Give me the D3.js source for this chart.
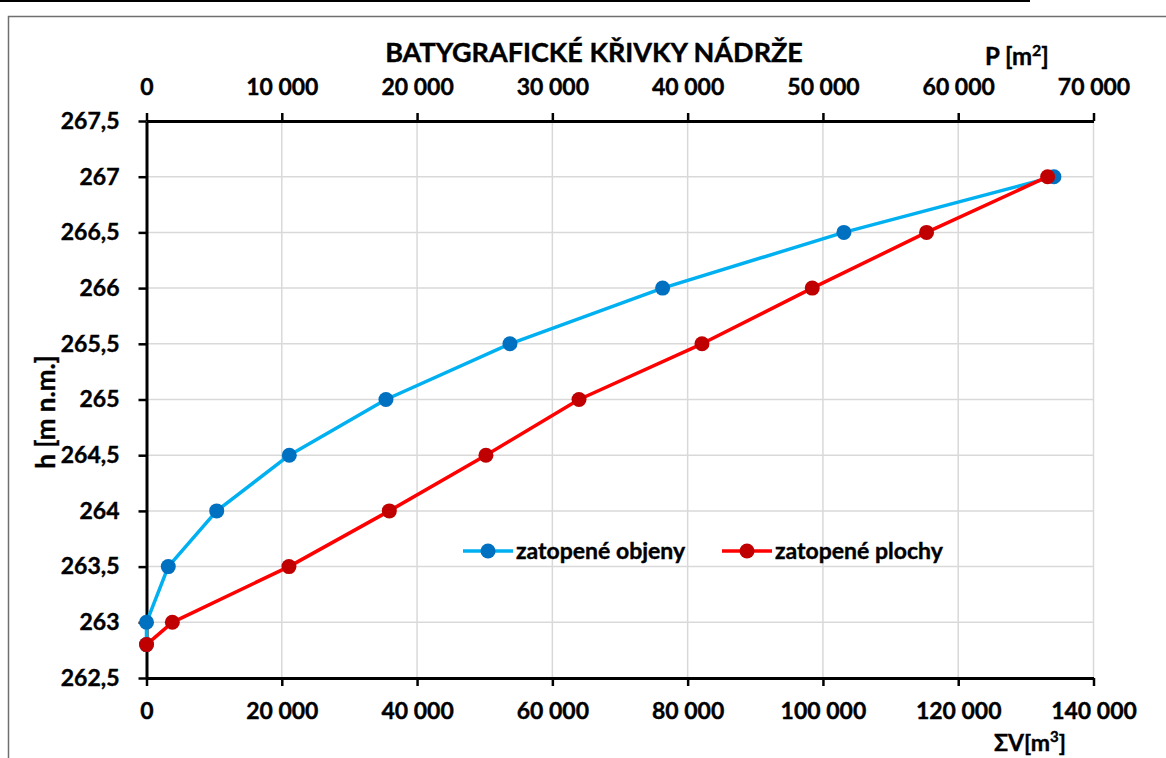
<!DOCTYPE html>
<html>
<head>
<meta charset="utf-8">
<script src="https://cdn.jsdelivr.net/npm/d3@7"></script>
<style>
  body { margin: 0; background: #fff; }
  text { font-family: Lato, "Open Sans", sans-serif; font-weight: bold; fill: #000; stroke: #000; stroke-width: 0.4px; }
</style>
</head>
<body>
<div id="chart"></div>
<script>
// hladiny [m n.m.]
const levels = [262.8, 263, 263.5, 264, 264.5, 265, 265.5, 266, 266.5, 267];
// zatopené objemy [m3] - dolní osa
const volumes = [0, 0, 3220, 10380, 21110, 35400, 53730, 76300, 103100, 134150];
// zatopené plochy [m2] - horní osa
const areas = [0, 1910, 10530, 17950, 25090, 31970, 41060, 49210, 57660, 66610];

const volumeTicks = [0, 20000, 40000, 60000, 80000, 100000, 120000, 140000];
const areaTicks = [0, 10000, 20000, 30000, 40000, 50000, 60000, 70000];
const levelTicks = [262.5, 263, 263.5, 264, 264.5, 265, 265.5, 266, 266.5, 267, 267.5];

const seriesNames = ["zatopené objeny", "zatopené plochy"];

const W = 1166, H = 758;
const margin = {top: 121, right: 72.5, bottom: 80, left: 146.5},
    width = W - margin.left - margin.right,
    height = H - margin.top - margin.bottom;

const fmt = d => d3.format(",")(d).replace(/,/g, " ");
const fmtY = d => String(d).replace(".", ",");

const root = d3.select("#chart").append("svg")
    .attr("width", W)
    .attr("height", H);

// rámeček
root.append("line")
    .attr("x1", 0).attr("x2", 1030)
    .attr("y1", 1).attr("y2", 1)
    .attr("stroke", "#000").attr("stroke-width", 2);
root.append("rect")
    .attr("x", 8.5).attr("y", 16.5)
    .attr("width", W).attr("height", H)
    .attr("fill", "none")
    .attr("stroke", "#6f6f6f").attr("stroke-width", 1.5);

const svg = root.append("g")
    .attr("transform", "translate(" + margin.left + "," + margin.top + ")");

const xV = d3.scaleLinear().domain([0, 140000]).range([0, width]);
const xP = d3.scaleLinear().domain([0, 70000]).range([0, width]);
const y = d3.scaleLinear().domain([262.5, 267.5]).range([height, 0]);

// mřížka
svg.append("g")
    .selectAll("line")
    .data(volumeTicks.slice(1))
    .enter()
    .append("line")
    .attr("x1", d => xV(d)).attr("x2", d => xV(d))
    .attr("y1", 0).attr("y2", height)
    .attr("stroke", "#d9d9d9").attr("stroke-width", 1.5);
svg.append("g")
    .selectAll("line")
    .data(levelTicks.slice(1))
    .enter()
    .append("line")
    .attr("x1", 0).attr("x2", width)
    .attr("y1", d => y(d)).attr("y2", d => y(d))
    .attr("stroke", "#d9d9d9").attr("stroke-width", 1.5);

// osy
function styleAxis(g) {
    g.select(".domain").attr("stroke", "#000").attr("stroke-width", 3);
    g.selectAll(".tick line").attr("stroke", "#000").attr("stroke-width", 2.5);
    g.selectAll(".tick text").style("font-size", "23px").attr("fill", "#000");
}

svg.append("g")
    .attr("transform", "translate(0," + height + ")")
    .call(d3.axisBottom(xV).tickValues(volumeTicks).tickFormat(fmt).tickSize(8).tickSizeOuter(0).tickPadding(17))
    .call(styleAxis);

svg.append("g")
    .call(d3.axisTop(xP).tickValues(areaTicks).tickFormat(fmt).tickSize(8).tickSizeOuter(0).tickPadding(18))
    .call(styleAxis);

svg.append("g")
    .call(d3.axisLeft(y).tickValues(levelTicks).tickFormat(fmtY).tickSize(8).tickSizeOuter(0).tickPadding(19))
    .call(styleAxis);

// řady
const series = [
    {name: seriesNames[0], x: xV, values: volumes, line: "#00b0f0", dot: "#0070c0"},
    {name: seriesNames[1], x: xP, values: areas, line: "#ff0000", dot: "#c00000"}
];

series.forEach(function (s) {
    const pts = levels.map((h, i) => [s.x(s.values[i]), y(h)]);
    svg.append("path")
        .attr("d", d3.line()(pts))
        .attr("fill", "none")
        .attr("stroke", s.line)
        .attr("stroke-width", 3.5)
        .attr("stroke-linejoin", "round");
    svg.append("g")
        .selectAll("circle")
        .data(pts)
        .enter()
        .append("circle")
        .attr("cx", d => d[0])
        .attr("cy", d => d[1])
        .attr("r", 7.5)
        .attr("fill", s.dot);
});

// legenda
const legend = root.append("g").attr("transform", "translate(463,551)");
const legendX = [0, 259];
series.forEach(function (s, i) {
    const g = legend.append("g").attr("transform", "translate(" + legendX[i] + ",0)");
    g.append("line")
        .attr("x1", 0).attr("x2", 50)
        .attr("stroke", s.line).attr("stroke-width", 3.5);
    g.append("circle")
        .attr("cx", 25).attr("r", 7.5)
        .attr("fill", s.dot);
    g.append("text")
        .attr("x", 53).attr("y", 8)
        .style("font-size", "23px")
        .text(s.name);
});

// popisky
root.append("text")
    .attr("x", 594).attr("y", 62)
    .attr("text-anchor", "middle")
    .style("font-size", "27px")
    .text("BATYGRAFICKÉ KŘIVKY NÁDRŽE");

const pLab = root.append("text")
    .attr("x", 985).attr("y", 65)
    .style("font-size", "24px");
pLab.append("tspan").text("P [m");
pLab.append("tspan").attr("dy", -9).style("font-size", "16px").text("2");
pLab.append("tspan").attr("dy", 9).text("]");

const vLab = root.append("text")
    .attr("x", 994).attr("y", 751)
    .style("font-size", "23px");
vLab.append("tspan").text("ΣV[m");
vLab.append("tspan").attr("dy", -9).style("font-size", "15px").text("3");
vLab.append("tspan").attr("dy", 9).text("]");

root.append("text")
    .attr("transform", "translate(55,412) rotate(-90)")
    .attr("text-anchor", "middle")
    .style("font-size", "26px")
    .text("h [m n.m.]");
</script>
</body>
</html>
